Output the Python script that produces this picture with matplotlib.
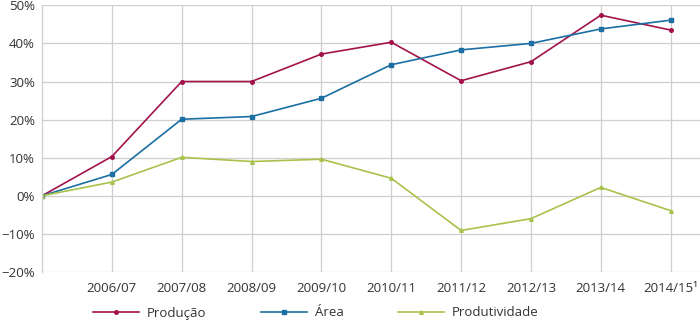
import matplotlib
matplotlib.use("Agg")
import matplotlib.pyplot as plt
import numpy as np

# dados (% de variação em relação a 2005/06)
safras = ["", "2006/07", "2007/08", "2008/09", "2009/10", "2010/11",
          "2011/12", "2012/13", "2013/14", "2014/15\u00b9"]
producao = [0, 10.3, 30.0, 30.0, 37.2, 40.3, 30.2, 35.2, 47.4, 43.5]
area = [0, 5.6, 20.1, 20.8, 25.6, 34.4, 38.3, 40.0, 43.8, 46.1]
produtividade = [0, 3.6, 10.1, 9.0, 9.6, 4.6, -9.1, -6.0, 2.2, -3.9]

plt.rcParams['font.family'] = ['Open Sans', 'DejaVu Sans']
plt.rcParams['font.size'] = 9.5

fig = plt.figure(figsize=(7, 3.28), dpi=100)
ax = fig.add_axes([42/700, 1 - 272/328, 1 - 42/700, (272 - 5.3)/328])

x = np.arange(len(safras))
ax.plot(x, producao, color='#a3134b', lw=1.2, marker='o', ms=2.6, label='Produção')
ax.plot(x, area, color='#1b6fa3', lw=1.2, marker='s', ms=2.6, label='Área')
ax.plot(x, produtividade, color='#a9c24c', lw=1.2, marker='^', ms=2.6, label='Produtividade')

ax.set_ylim(-20, 50)
ax.set_xlim(0, 9.42)
ax.set_yticks(range(-20, 51, 10))
ax.set_yticklabels([f"{v}%".replace("-", "\u2212") for v in range(-20, 51, 10)])
ax.set_xticks(x[1:])
ax.set_xticklabels(safras[1:])
ax.tick_params(length=0, colors='#333333', labelsize=9.5)
ax.tick_params(axis='y', pad=5)
ax.tick_params(axis='x', pad=7)

ax.grid(True, color='#cfcfcf', lw=0.9)
ax.set_axisbelow(True)
for s in ['top', 'right', 'bottom']:
    ax.spines[s].set_visible(False)
ax.spines['left'].set_color('#cfcfcf')
ax.spines['left'].set_linewidth(0.9)

fig.legend(loc='center left', bbox_to_anchor=(93/700, 1 - 313/328), ncol=3,
           frameon=False, handlelength=3.5, handletextpad=0.6,
           columnspacing=4.1, borderpad=0, borderaxespad=0, fontsize=9.5,
           labelcolor='#333333')

fig.savefig("out.png", dpi=100)
